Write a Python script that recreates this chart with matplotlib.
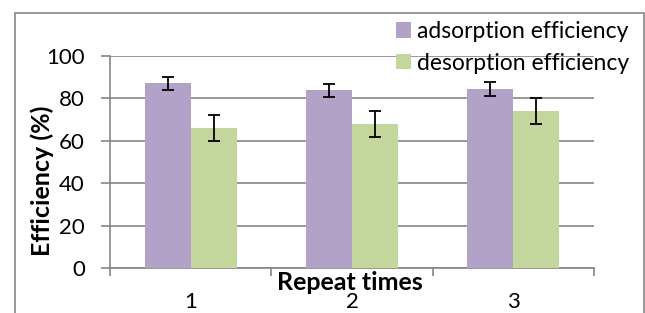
import matplotlib
matplotlib.use("Agg")
import matplotlib.pyplot as plt
from matplotlib.patches import Rectangle
import numpy as np

plt.rcParams['font.family'] = ['Lato', 'DejaVu Sans']

categories = ['1', '2', '3']
adsorption = [87.1, 83.8, 84.4]
adsorption_err = [3.0, 3.2, 3.2]
desorption = [66.0, 68.0, 73.9]
desorption_err = [6.0, 6.1, 6.2]
yticks = [0, 20, 40, 60, 80, 100]

W, H = 645, 313
fig = plt.figure(figsize=(W/100, H/100), dpi=100)
ax = fig.add_axes([110/W, 1-268/H, (594-110)/W, (268-56)/H])

x = np.arange(len(categories))
bw = 0.285
purple = '#B3A2C7'
green = '#C3D69B'
ekw = dict(ecolor='black', elinewidth=1.3, capsize=4.5, capthick=1.3)
ax.bar(x - bw/2, adsorption, bw, color=purple, yerr=adsorption_err, error_kw=ekw,
       label='adsorption efficiency', zorder=3)
ax.bar(x + bw/2, desorption, bw, color=green, yerr=desorption_err, error_kw=ekw,
       label='desorption efficiency', zorder=3)

ax.set_xlim(-0.5, 2.5)
ax.set_ylim(0, 100)
ax.set_yticks(yticks)
ax.yaxis.grid(True, color='#868686', linewidth=1.2, zorder=0)
ax.set_axisbelow(True)
for s in ['top', 'right']:
    ax.spines[s].set_visible(False)
for s in ['left', 'bottom']:
    ax.spines[s].set_color('#868686')
    ax.spines[s].set_linewidth(1.2)

FS = 16
ax.tick_params(axis='y', length=6.5, width=1.2, color='#868686', labelsize=FS, pad=11.5)
ax.set_xticks(x)
ax.set_xticklabels(categories)
ax.set_xticks([-0.5, 0.5, 1.5, 2.5], minor=True)
ax.tick_params(axis='x', which='major', length=0, labelsize=FS, pad=17.5)
ax.tick_params(axis='x', which='minor', length=6, width=1.2, color='#868686')

fig.text(350/W, 1-282/H, 'Repeat times', ha='center', va='center',
         fontsize=18, fontweight='bold')
fig.text(42/W, 1-181/H, 'Efficiency (%)', ha='center', va='center',
         fontsize=18, fontweight='bold', rotation=90)

leg = ax.legend(loc='upper right', bbox_to_anchor=(629/W, 1-21/H),
                bbox_transform=fig.transFigure, frameon=False, fontsize=16.5,
                handlelength=0.65, handleheight=0.65, handletextpad=0.26,
                labelspacing=0.46, borderaxespad=0, borderpad=0)

fig.patches.append(Rectangle((15/W, -0.1), (644-15)/W, 1.1-13/H,
                             transform=fig.transFigure, fill=False,
                             edgecolor='#868686', linewidth=1.2))

fig.savefig('out.png', dpi=100)
